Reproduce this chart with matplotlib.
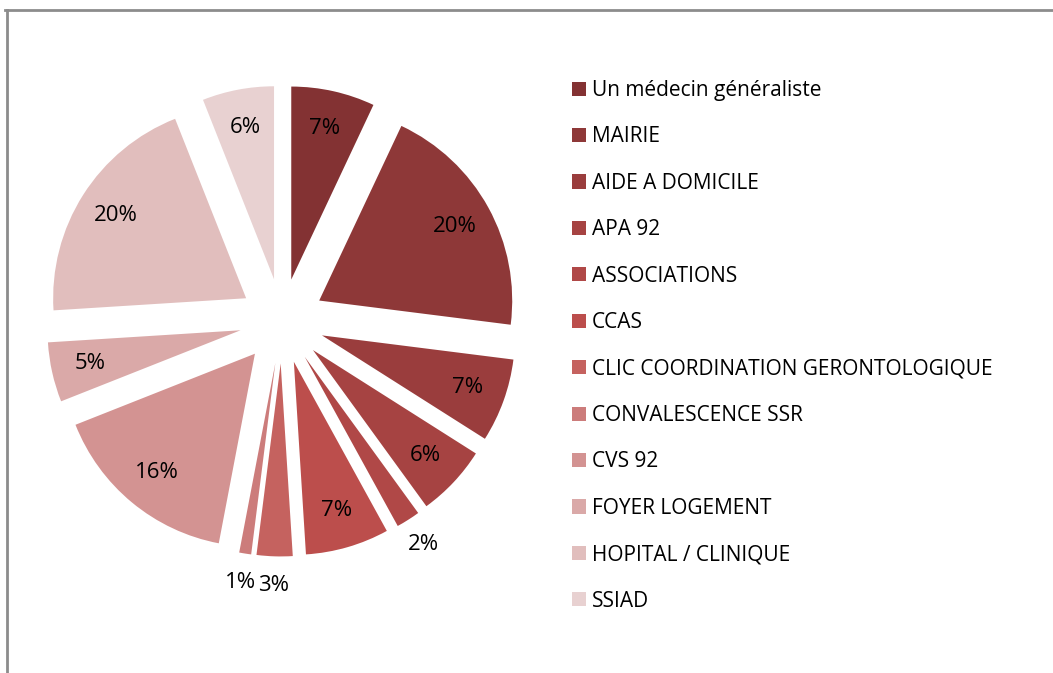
import numpy as np
import matplotlib
matplotlib.use('Agg')
import matplotlib.pyplot as plt
from matplotlib.lines import Line2D

plt.rcParams['font.family'] = ['Open Sans', 'DejaVu Sans']

# Données
categories = ['Un médecin généraliste', 'MAIRIE', 'AIDE A DOMICILE', 'APA 92',
              'ASSOCIATIONS', 'CCAS', 'CLIC COORDINATION GERONTOLOGIQUE',
              'CONVALESCENCE SSR', 'CVS 92', 'FOYER LOGEMENT',
              'HOPITAL / CLINIQUE', 'SSIAD']
values = [7, 20, 7, 6, 2, 7, 3, 1, 16, 5, 20, 6]
colors = ['#833233', '#8E3838', '#9A3D3D', '#A64342', '#B04847', '#BC4E4C',
          '#C5625F', '#CC7C7B', '#D39392', '#DAA9A8', '#E1BEBD', '#E8D1D1']

W, H = 1053, 673
fig = plt.figure(figsize=(W / 100, H / 100), dpi=100)

# cadre gris (haut et gauche)
fig.add_artist(Line2D([5 / W, 1.0], [1 - 10 / H, 1 - 10 / H], color='#8c8c8c', lw=2,
                      transform=fig.transFigure))
fig.add_artist(Line2D([7 / W, 7 / W], [1 - 10 / H, 0.0], color='#8c8c8c', lw=2,
                      transform=fig.transFigure))

R = 193  # rayon en pixels
cx, cy = 282, H - 321
half = 1.4 * R
ax = fig.add_axes([(cx - half) / W, (cy - half) / H, 2 * half / W, 2 * half / H])

explode = 0.22
wedges, _ = ax.pie(values, colors=colors, startangle=90, counterclock=False,
                   explode=[explode] * len(values), radius=1,
                   wedgeprops=dict(linewidth=0))
ax.set_xlim(-1.4, 1.4)
ax.set_ylim(-1.4, 1.4)
ax.set_aspect('equal')
ax.axis('off')

# étiquettes de pourcentage (petites parts à l'extérieur)
for w, v in zip(wedges, values):
    mid = np.deg2rad((w.theta1 + w.theta2) / 2)
    ox, oy = w.center
    r = 1.15 if v < 4 else 0.8
    ax.text(ox + r * np.cos(mid), oy + r * np.sin(mid), f'{v}%',
            ha='center', va='center', fontsize=16, color='black')

fig.legend(wedges, categories, loc='upper left',
           bbox_to_anchor=(572 / W, 1 - 80 / H), frameon=False,
           fontsize=15, handlelength=0.67, handleheight=0.67,
           handletextpad=0.3, labelspacing=1.22, borderaxespad=0, borderpad=0)

fig.savefig('out.png', dpi=100)
